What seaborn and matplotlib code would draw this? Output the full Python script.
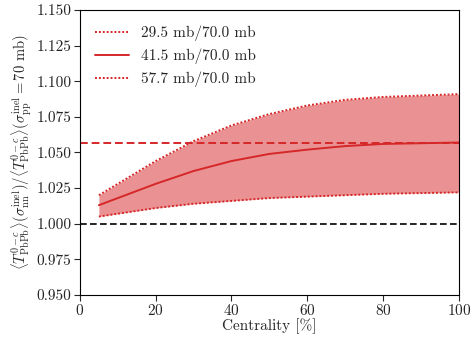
import matplotlib
matplotlib.use("Agg")
import matplotlib.pyplot as plt
import numpy as np
import pandas as pd
import seaborn as sns

sns.set_style("ticks")
plt.rcParams["font.family"] = "serif"
plt.rcParams["font.serif"] = ["cmr10"]
plt.rcParams["mathtext.fontset"] = "cm"
plt.rcParams["axes.formatter.use_mathtext"] = True

# Centrality bins and the ratio for the three sigma_nn values
centrality = [5, 10, 15, 20, 30, 40, 50, 60, 70, 80, 90, 100]
ratio_29p5 = [1.005, 1.007, 1.009, 1.011, 1.014, 1.016, 1.018, 1.019, 1.020, 1.021, 1.0215, 1.022]
ratio_41p5 = [1.013, 1.018, 1.023, 1.028, 1.037, 1.044, 1.049, 1.052, 1.0545, 1.056, 1.0565, 1.057]
ratio_57p7 = [1.020, 1.028, 1.036, 1.044, 1.058, 1.069, 1.077, 1.083, 1.087, 1.089, 1.090, 1.091]
reference_level = 1.057
unity = 1.0

labels = ["29.5 mb/70.0 mb", "41.5 mb/70.0 mb", "57.7 mb/70.0 mb"]

df = pd.DataFrame({
    "centrality": centrality * 3,
    "ratio": ratio_29p5 + ratio_41p5 + ratio_57p7,
    "label": [labels[0]] * len(centrality) + [labels[1]] * len(centrality) + [labels[2]] * len(centrality),
})

red = "#d62728"

fig = plt.figure(figsize=(4.73, 3.37), dpi=100)
ax = fig.add_axes([0.169, 0.125, 0.801, 0.845])

ax.fill_between(centrality, ratio_29p5, ratio_57p7, color=red, alpha=0.5, lw=0)

sns.lineplot(data=df, x="centrality", y="ratio", hue="label", style="label",
             palette=[red, red, red],
             dashes={labels[0]: (1, 1), labels[1]: "", labels[2]: (1, 1)},
             linewidth=1.4, ax=ax)

ax.axhline(reference_level, color=red, ls=(0, (4, 2)), lw=1.4)
ax.axhline(unity, color="black", ls=(0, (4, 2)), lw=1.2)

ax.set_xlim(0, 100)
ax.set_ylim(0.95, 1.15)
ax.set_xticks([0, 20, 40, 60, 80, 100])
ax.set_yticks(np.arange(0.95, 1.1501, 0.025))
ax.yaxis.set_major_formatter(matplotlib.ticker.FormatStrFormatter("%.3f"))
ax.tick_params(labelsize=11, direction="out", length=4, pad=2)

ax.set_xlabel("Centrality [%]", fontsize=11, labelpad=0)
ax.set_ylabel(r"$\langle T^{0-c}_{\rm PbPb}\rangle(\sigma^{\rm inel}_{\rm nn})/\langle T^{0-c}_{\rm PbPb}\rangle(\sigma^{\rm inel}_{\rm pp}=70$ mb)",
              fontsize=10.5, labelpad=2)

for s in ax.spines.values():
    s.set_visible(True)
    s.set_color("black")

ax.legend(loc="upper left", frameon=False, fontsize=11, title=None,
          handlelength=2.2, borderaxespad=0.6, labelspacing=0.5)

fig.savefig("out.png", dpi=100)
